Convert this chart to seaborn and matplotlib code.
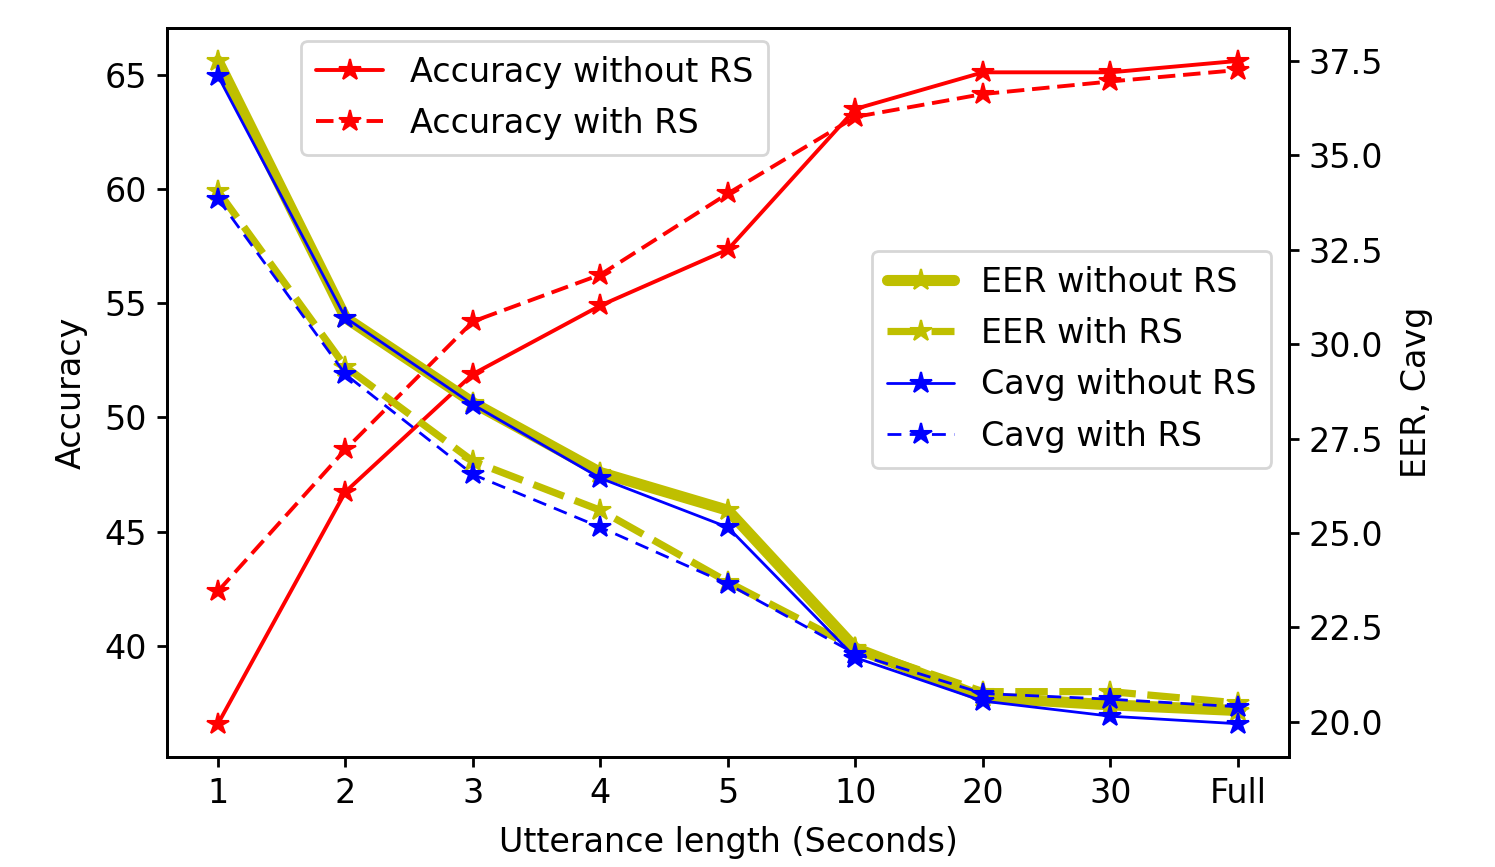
import matplotlib
matplotlib.use("Agg")
import matplotlib.pyplot as plt
import seaborn as sns

# utterance lengths (x categories)
lengths = ["1", "2", "3", "4", "5", "10", "20", "30", "Full"]

# left axis: accuracy
acc_without_rs = [36.6, 46.75, 51.9, 54.9, 57.35, 63.5, 65.1, 65.1, 65.6]
acc_with_rs = [42.4, 48.6, 54.2, 56.25, 59.8, 63.15, 64.15, 64.7, 65.2]

# right axis: EER and Cavg
eer_without_rs = [37.5, 30.7, 28.45, 26.6, 25.6, 21.95, 20.65, 20.45, 20.3]
eer_with_rs = [34.05, 29.4, 26.9, 25.6, 23.7, 21.95, 20.8, 20.8, 20.5]
cavg_without_rs = [37.1, 30.7, 28.4, 26.45, 25.15, 21.7, 20.55, 20.15, 19.95]
cavg_with_rs = [33.85, 29.2, 26.55, 25.15, 23.65, 21.8, 20.75, 20.6, 20.4]

sns.set_style("ticks", {"axes.edgecolor": "black", "xtick.color": "black",
                        "ytick.color": "black", "axes.labelcolor": "black",
                        "text.color": "black"})
plt.rcParams["font.family"] = ["DejaVu Sans"]
plt.rcParams["font.size"] = 12
plt.rcParams["text.color"] = "black"
plt.rcParams["axes.linewidth"] = 1.0
plt.rcParams["xtick.major.size"] = 3.6
plt.rcParams["ytick.major.size"] = 3.6
plt.rcParams["xtick.major.width"] = 1.0
plt.rcParams["ytick.major.width"] = 1.0

pos = list(range(len(lengths)))

fig = plt.figure(figsize=(7.475, 4.335), dpi=200)
ax = fig.add_axes([0.1117, 0.127, 0.7505, 0.841])
ax2 = ax.twinx()

ms = 8
sns.lineplot(x=pos, y=acc_without_rs, ax=ax, color="red", lw=1.4, marker="*",
             markersize=ms, markeredgecolor="red", label="Accuracy without RS")
sns.lineplot(x=pos, y=acc_with_rs, ax=ax, color="red", lw=1.4, marker="*",
             linestyle=(0, (4.5, 2)), markersize=ms, markeredgecolor="red",
             label="Accuracy with RS")

yellow = "#bfbf00"
sns.lineplot(x=pos, y=eer_without_rs, ax=ax2, color=yellow, lw=4.0, marker="*",
             markersize=ms, markeredgecolor=yellow, label="EER without RS")
sns.lineplot(x=pos, y=eer_with_rs, ax=ax2, color=yellow, lw=2.6, marker="*",
             linestyle=(0, (4.5, 1.6)), markersize=ms, markeredgecolor=yellow,
             label="EER with RS")
sns.lineplot(x=pos, y=cavg_without_rs, ax=ax2, color="blue", lw=1.0, marker="*",
             markersize=ms, markeredgecolor="blue", label="Cavg without RS")
sns.lineplot(x=pos, y=cavg_with_rs, ax=ax2, color="blue", lw=1.0, marker="*",
             linestyle=(0, (5, 3)), markersize=ms, markeredgecolor="blue",
             label="Cavg with RS")

ax.set_xticks(pos)
ax.set_xticklabels(lengths)
ax.set_xlabel("Utterance length (Seconds)", fontsize=12, labelpad=6)
ax.set_ylabel("Accuracy", fontsize=12, labelpad=6)
ax2.set_ylabel("EER, Cavg", fontsize=12, labelpad=6)
ax.tick_params(labelsize=12)
ax2.tick_params(labelsize=12)

ax.legend(loc="upper left", bbox_to_anchor=(0.105, 1.005), fontsize=12,
          handlelength=2.0, borderpad=0.45, labelspacing=0.55)
ax2.legend(loc="upper right", bbox_to_anchor=(0.999, 0.717), fontsize=12,
           handlelength=2.0, borderpad=0.45, labelspacing=0.55)

fig.savefig("out.png", dpi=200)
